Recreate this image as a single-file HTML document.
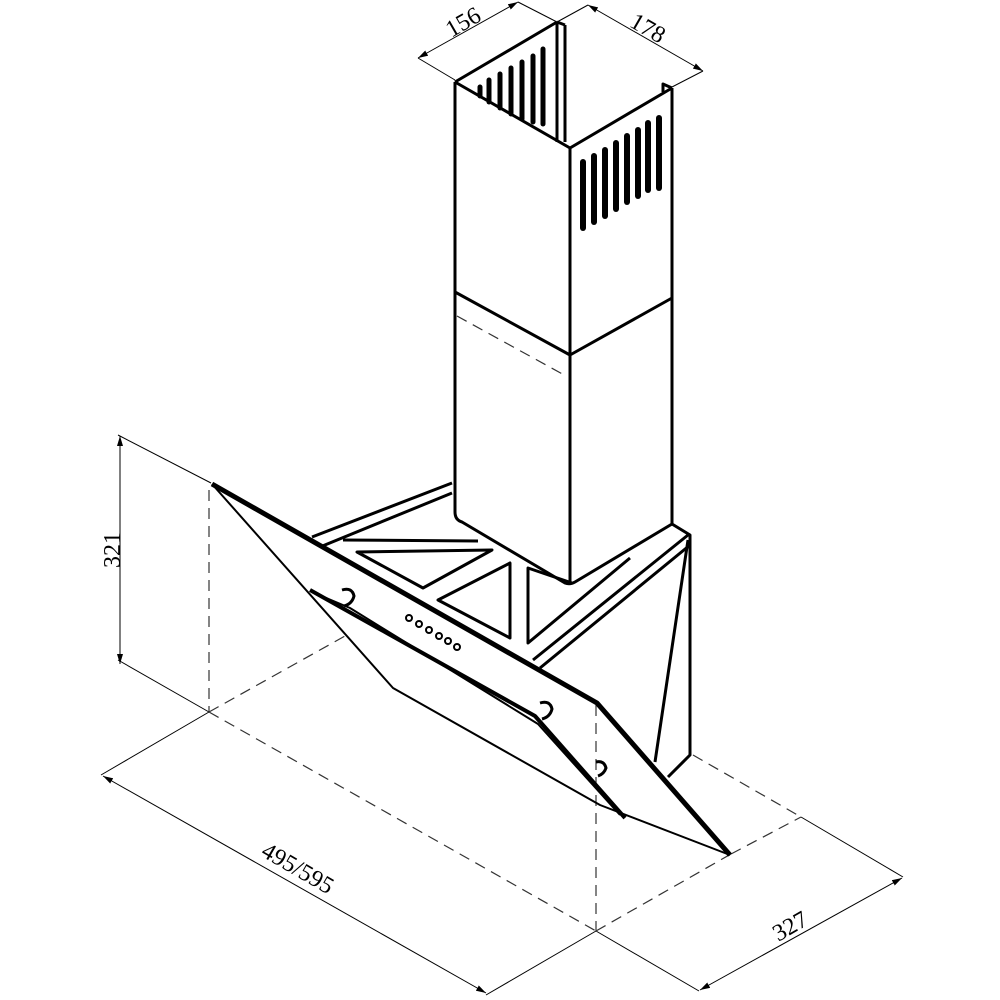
<!DOCTYPE html>
<html><head><meta charset="utf-8"><style>html,body{margin:0;padding:0;background:#fff}svg{display:block}</style></head>
<body>
<svg width="1000" height="1000" viewBox="0 0 1000 1000" xmlns="http://www.w3.org/2000/svg" font-family="Liberation Serif, serif">
<rect width="1000" height="1000" fill="#fff"/>
<defs><marker id="ar" viewBox="0 0 10 6" refX="10" refY="3" markerWidth="10" markerHeight="6" orient="auto-start-reverse" markerUnits="userSpaceOnUse"><path d="M0,0 L10,3 L0,6 z" fill="#000"/></marker></defs>
<g stroke="#000" fill="none" stroke-width="1">
<line x1="418" y1="58" x2="518" y2="2" marker-start="url(#ar)" marker-end="url(#ar)"/>
<line x1="418" y1="58" x2="455" y2="80"/>
<line x1="518" y1="2" x2="557" y2="22"/>
<line x1="588" y1="5" x2="703" y2="71" marker-start="url(#ar)" marker-end="url(#ar)"/>
<line x1="557" y1="22" x2="588" y2="5"/>
<line x1="672" y1="87" x2="703" y2="71"/>
<line x1="120" y1="436" x2="120" y2="664" marker-start="url(#ar)" marker-end="url(#ar)"/>
<line x1="118" y1="435" x2="211" y2="483"/>
<line x1="118" y1="660" x2="209" y2="712"/>
<line x1="103" y1="776" x2="486" y2="993" marker-start="url(#ar)" marker-end="url(#ar)"/>
<line x1="209" y1="712" x2="101" y2="775"/>
<line x1="596" y1="931" x2="486" y2="995"/>
<line x1="700" y1="990" x2="902" y2="878" marker-start="url(#ar)" marker-end="url(#ar)"/>
<line x1="596" y1="931" x2="699" y2="991"/>
<line x1="801" y1="817" x2="903" y2="877"/>
</g>
<g stroke="#333" fill="none" stroke-width="1.2" stroke-dasharray="11,7">
<line x1="209" y1="490" x2="209" y2="712"/>
<line x1="209" y1="712" x2="345" y2="636"/>
<line x1="209" y1="712" x2="596" y2="931"/>
<line x1="596" y1="705" x2="596" y2="931"/>
<line x1="596" y1="931" x2="731" y2="854"/>
<line x1="731" y1="854" x2="801" y2="817"/>
<line x1="693" y1="755" x2="801" y2="817"/>
<line x1="457" y1="316" x2="566" y2="376"/>
</g>
<g font-size="24" fill="#000">
<text x="463" y="30" text-anchor="middle" transform="rotate(-30 463 22)">156</text>
<text x="648" y="36" text-anchor="middle" transform="rotate(30 648 28)">178</text>
<text x="112" y="558" text-anchor="middle" transform="rotate(-90 112 550)">321</text>
<text x="298" y="876" text-anchor="middle" transform="rotate(30 298 868)">495/595</text>
<text x="790" y="934" text-anchor="middle" transform="rotate(-30 790 926)">327</text>
</g>
<g stroke="#000" fill="none" stroke-width="3" stroke-linejoin="round">
<path d="M455,82 L557,22 M455,82 L570,148 L672,88"/>
<path d="M557,22 L557,142 M565,25 L565,142 M557,22 L565,25"/>
<path d="M663,92 L663,84 L672,88"/>
<line x1="455" y1="82" x2="455" y2="512"/>
<line x1="570" y1="148" x2="570" y2="582"/>
<line x1="672" y1="88" x2="672" y2="524"/>
<path d="M455,292 L570,355 L672,298"/>
<path d="M455,512 Q455,520 462,522 L565,583 Q570,585 575,582 L672,524"/>
</g>
<g stroke="#000" stroke-width="5" stroke-linecap="round">
<line x1="480" y1="87" x2="480" y2="96"/><line x1="489" y1="80" x2="489" y2="102"/><line x1="500" y1="74" x2="500" y2="108"/><line x1="511" y1="68" x2="511" y2="114"/><line x1="522" y1="62" x2="522" y2="119"/><line x1="533" y1="56" x2="533" y2="122"/><line x1="543" y1="49" x2="543" y2="124"/>
</g>
<g stroke="#000" stroke-width="6" stroke-linecap="round">
<line x1="583" y1="162" x2="583" y2="228"/><line x1="594" y1="156" x2="594" y2="222"/><line x1="605" y1="150" x2="605" y2="216"/><line x1="616" y1="143" x2="616" y2="209"/><line x1="627" y1="136" x2="627" y2="202"/><line x1="638" y1="130" x2="638" y2="196"/><line x1="648" y1="123" x2="648" y2="190"/><line x1="659" y1="118" x2="659" y2="188"/>
</g>
<g stroke="#000" fill="none" stroke-width="3" stroke-linejoin="round">
<path d="M312,537 L452,483 M320,547 L452,493"/>
<path d="M533,660 L688,535 M540,668 L690,545"/>
<path d="M672,524 L690,535 L690,755 L668,777 M688,540 L655,762"/>
<path d="M343,540 L478,541"/>
<path d="M357,552 L492,550 L423,588 Z"/>
<path d="M438,600 L510,563 L510,638 Z"/>
<path d="M572,583 L528,568 L528,643 L630,558"/>
</g>
<g stroke="#000" fill="none" stroke-linejoin="round">
<path d="M212,484 L597,703 L730,855" stroke-width="5"/>
<path d="M212,484 L393,688 L600,805 L730,855" stroke-width="2"/>
<path d="M310,590 L535,716 L625,818" stroke-width="4"/>
<path d="M312,592 L350,608 L538,724 L620,815" stroke-width="2"/>
<path d="M320,545 L597,703" stroke-width="3"/>
</g>
<g stroke="#000" fill="#fff" stroke-width="2">
<circle cx="409" cy="618" r="3"/><circle cx="419" cy="624" r="3"/><circle cx="429" cy="630" r="3"/><circle cx="439" cy="636" r="3"/><circle cx="448" cy="641" r="3"/><circle cx="457" cy="647" r="3"/>
<path d="M342,590 q10,-3 12,6 q-2,8 -10,10" fill="none" stroke-width="3"/>
<path d="M540,703 q10,-3 12,6 q-2,8 -10,10" fill="none" stroke-width="3"/>
<path d="M596,762 q8,-2 10,6 q-2,6 -8,8" fill="none" stroke-width="3"/>
</g>
</svg>
</body></html>
